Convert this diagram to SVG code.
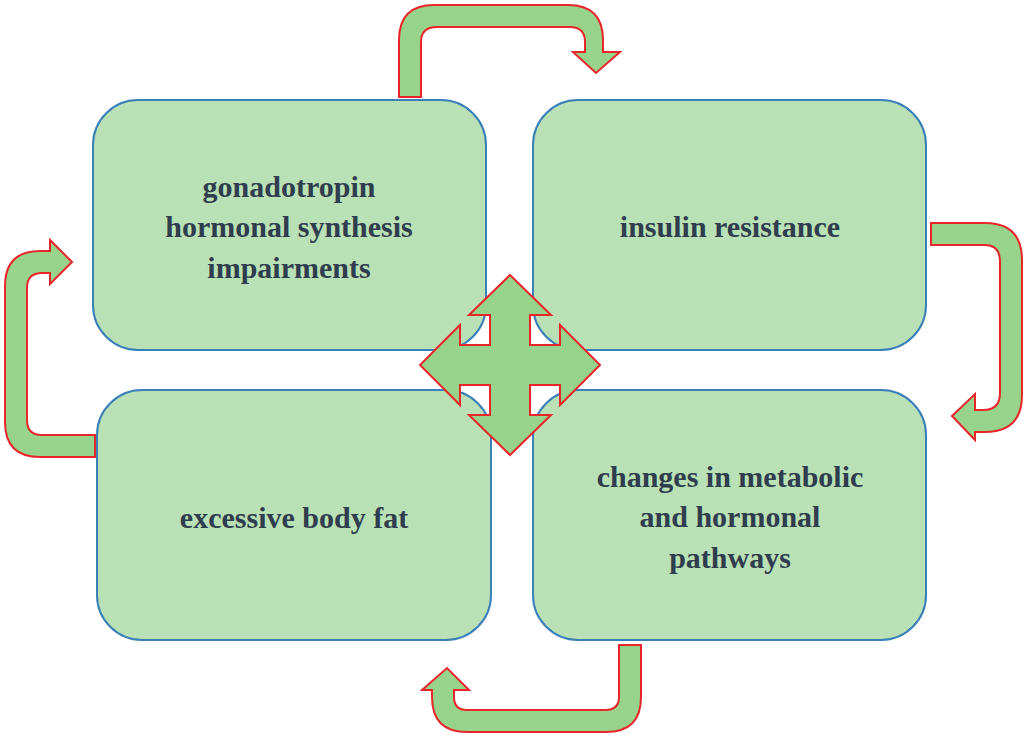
<svg xmlns="http://www.w3.org/2000/svg" width="1024" height="738" viewBox="0 0 1024 738">
<style>
.box{fill:#b9e1b5;stroke:#3b7fb8;stroke-width:2}
.arr{fill:#97d38b;stroke:#e8262a;stroke-width:2;stroke-linejoin:miter}
text{font-family:"Liberation Serif",serif;font-weight:bold;font-size:30px;fill:#2e3e4e;text-anchor:middle}
</style>
<rect width="1024" height="738" fill="#fff"/>
<g id="n1"><rect class="box" x="93" y="100" width="393" height="250" rx="45"/>
<text x="289" y="197">gonadotropin</text><text x="289" y="237">hormonal synthesis</text><text x="289" y="278">impairments</text></g>
<g id="n2"><rect class="box" x="533" y="100" width="393" height="250" rx="45"/>
<text x="730" y="237">insulin resistance</text></g>
<g id="n3"><rect class="box" x="97" y="390" width="394" height="250" rx="45"/>
<text x="294" y="528">excessive body fat</text></g>
<g id="n4"><rect class="box" x="533" y="390" width="393" height="250" rx="45"/>
<text x="730" y="487">changes in metabolic</text><text x="730" y="527">and hormonal</text><text x="730" y="568">pathways</text></g>
<g id="connectors">
<path class="arr" d="M399,97 L399,40 Q399,5 434,5 L568,5 Q603,5 603,40 L603,52 L620,52 L596,73 L573,52 L585,52 L585,42 Q585,27 570,27 L437,27 Q421,27 421,42 L421,97 Z"/>
<path class="arr" d="M931,223 L985,223 Q1022,223 1022,260 L1022,395 Q1022,432 985,432 L975,432 L975,440 L952,416 L975,394 L975,410 L983,410 Q1000,410 1000,393 L1000,262 Q1000,245 985,245 L931,245 Z"/>
<path class="arr" d="M641,645 L641,697 Q641,732 606,732 L467,732 Q432,732 432,697 L432,690 L422,690 L447,668 L469,690 L454,690 L454,697 Q454,710 467,710 L605,710 Q619,710 619,697 L619,645 Z"/>
<path class="arr" d="M95,457 L40,457 Q5,457 5,422 L5,286 Q5,251 40,251 L50,251 L50,240 L72,262 L50,284 L50,273 L42,273 Q27,273 27,288 L27,420 Q27,435 42,435 L95,435 Z"/>
<path class="arr" d="M510,275 L551,315 L530,315 L530,345 L560,345 L560,325 L600,365 L560,405 L560,385 L530,385 L530,415 L551,415 L510,455 L469,415 L490,415 L490,385 L460,385 L460,405 L420,365 L460,325 L460,345 L490,345 L490,315 L469,315 Z"/>
</g>
</svg>
